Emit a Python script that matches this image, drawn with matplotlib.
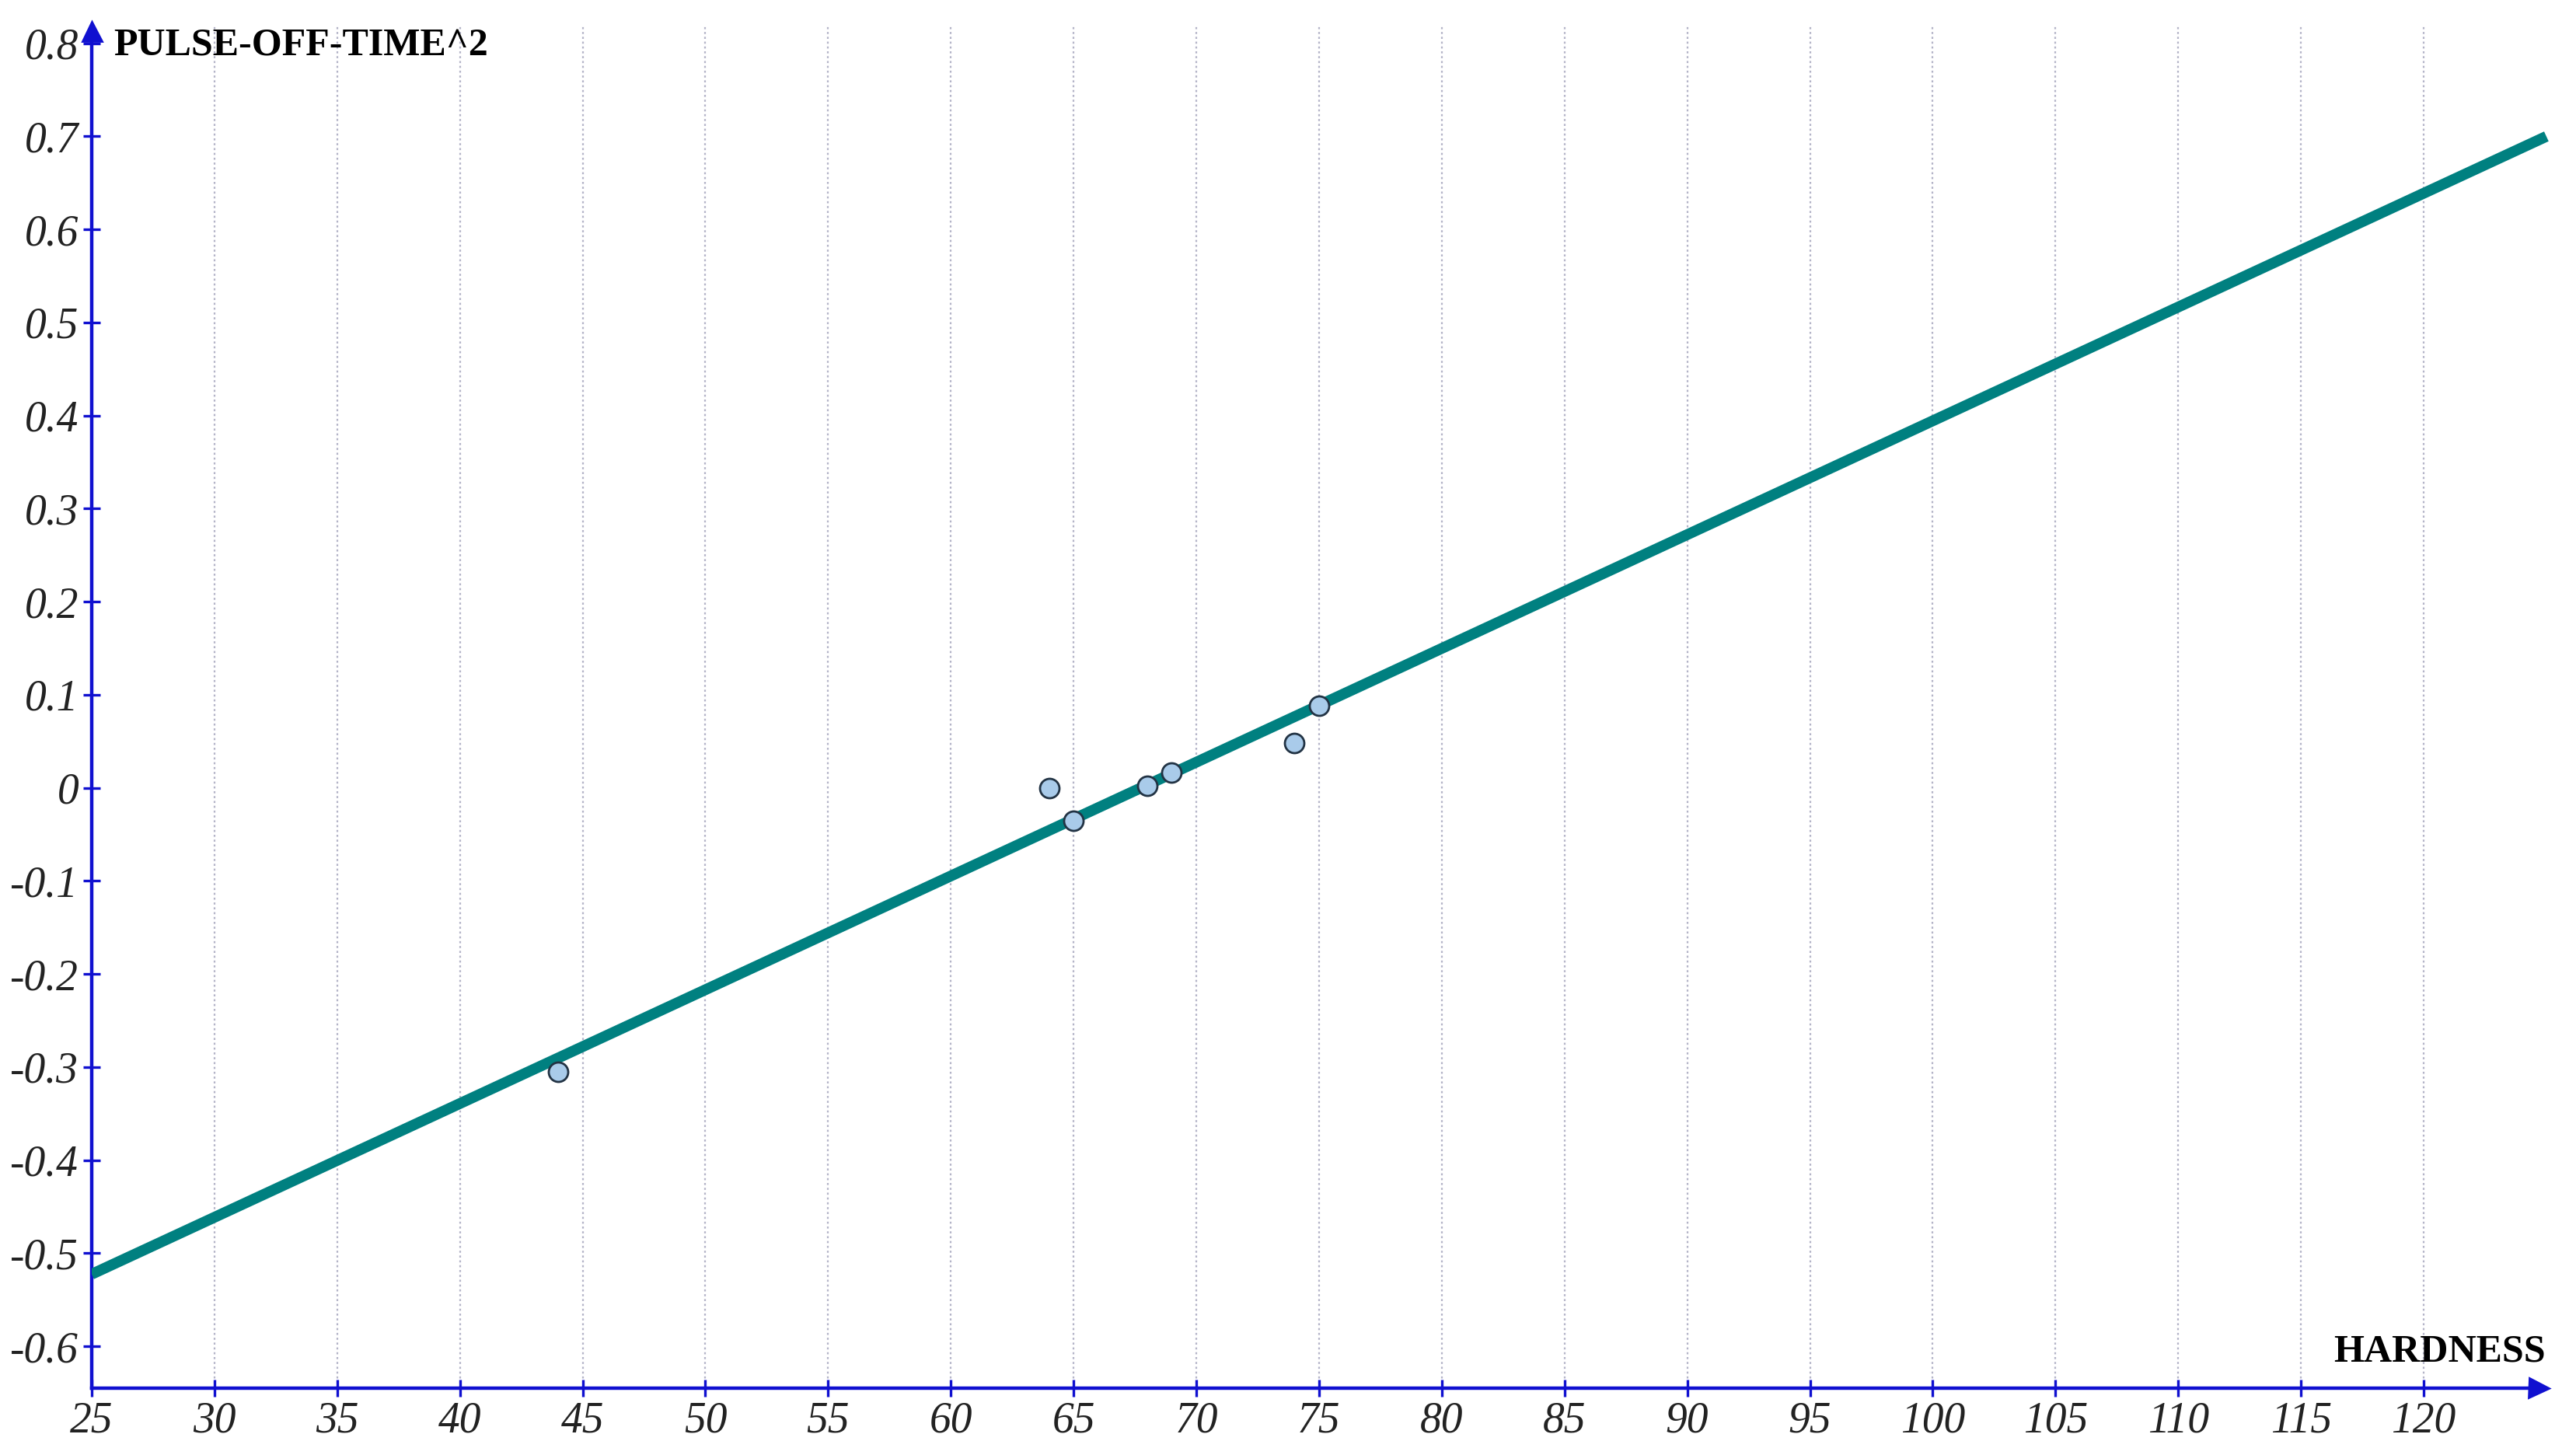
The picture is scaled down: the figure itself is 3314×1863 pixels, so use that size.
import matplotlib
matplotlib.use("Agg")
import matplotlib.pyplot as plt
import numpy as np

# measured points (hardness vs pulse-off-time^2)
hardness = [44, 64, 65, 68, 69, 74, 75]
pulse_off_sq = [-0.305, 0.0, -0.035, 0.002, 0.016, 0.048, 0.088]

x_ticks = list(range(25, 125, 5))
y_ticks = [round(v, 1) for v in np.arange(-0.6, 0.81, 0.1)]
y_labels = ["0" if v == 0 else ("%.1f" % v) for v in y_ticks]

blue = "#1010d0"
teal = "#008080"

plt.rcParams["font.family"] = ["Liberation Serif", "DejaVu Serif"]

fig = plt.figure(figsize=(16.57, 9.315), dpi=200)
ax = fig.add_axes([0.0356, 0.0413, 0.9548, 0.9417])

# least squares line drawn over the whole x range
k, b = np.polyfit(hardness, pulse_off_sq, 1)
xs = np.array([25, 125])
ax.plot(xs, k * xs + b, color=teal, lw=5.0, solid_capstyle="butt", zorder=3)

ax.plot(hardness, pulse_off_sq, "o", ms=9, mfc="#a9cbea", mec="#223344",
	mew=1.0, zorder=4)

ax.set_xlim(25, 125.2)
ax.set_ylim(-0.645, 0.82)

ax.set_xticks(x_ticks)
ax.set_xticklabels([str(t) for t in x_ticks])
ax.set_yticks(y_ticks)
ax.set_yticklabels(y_labels)

ax.grid(axis="x", color="#b4b4c8", ls=(0, (1.2, 1.6)), lw=0.8)
ax.grid(axis="y", visible=False)
ax.set_axisbelow(True)

for s in ["top", "right"]:
	ax.spines[s].set_visible(False)
ax.spines["left"].set_bounds(-0.645, 0.81)
ax.spines["bottom"].set_bounds(25, 124.7)
for s in ["left", "bottom"]:
	ax.spines[s].set_color(blue)
	ax.spines[s].set_linewidth(1.6)

ax.tick_params(direction="inout", length=8, width=1.2, color=blue,
	labelsize=20, labelcolor="#222222", pad=2)
for lab in ax.get_xticklabels() + ax.get_yticklabels():
	lab.set_fontstyle("italic")

# arrow heads at the axis ends
ax.plot([0.995], [0.0], ">", ms=9, color=blue, transform=ax.transAxes, clip_on=False)
ax.plot([0.0], [0.995], "^", ms=9, color=blue, transform=ax.transAxes, clip_on=False)

ax.text(0.009, 0.984, "PULSE-OFF-TIME^2", transform=ax.transAxes,
	fontsize=18, fontweight="bold", ha="left", va="center")
ax.text(0.9975, 0.0135, "HARDNESS", transform=ax.transAxes,
	fontsize=18, fontweight="bold", ha="right", va="bottom")

fig.savefig("out.png", dpi=200)
